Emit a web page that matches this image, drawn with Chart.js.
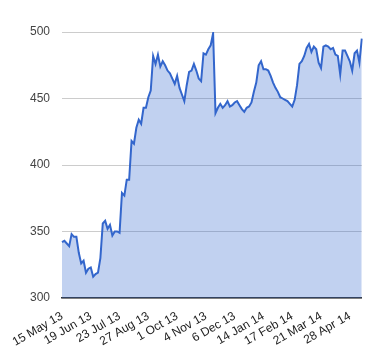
<!DOCTYPE html>
<html>
<head>
<meta charset="utf-8">
<script src="https://cdn.jsdelivr.net/npm/chart.js@4"></script>
<style>
  html, body { margin: 0; padding: 0; background: #fff; }
  #wrap { width: 380px; height: 360px; }
</style>
</head>
<body>
<div id="wrap"><canvas id="c" width="380" height="360"></canvas></div>
<script>
// Tick labels shown on the x axis (one every 12 points)
const tickLabels = ["15 May 13", "19 Jun 13", "23 Jul 13", "27 Aug 13", "1 Oct 13", "4 Nov 13",
                    "6 Dec 13", "14 Jan 14", "17 Feb 14", "21 Mar 14", "28 Apr 14"];
const tickEvery = 12;

// Series values
const values = [
  342, 343, 341, 339, 348, 346, 346, 334, 326, 328,
  319, 322, 323, 316, 318, 319, 330, 356, 358, 352,
  355, 347, 350, 350, 349, 379, 377, 389, 389, 418,
  416, 428, 434, 431, 443, 443, 451, 456, 482, 476,
  483, 474, 478, 475, 471, 469, 465, 461, 467, 458,
  453, 448, 460, 470, 471, 476, 471, 465, 463, 484,
  483, 487, 490, 499, 439, 443, 446, 443, 445, 448,
  444, 445, 447, 448, 445, 442, 440, 443, 444, 447,
  455, 462, 475, 478, 472, 472, 471, 467, 462, 458,
  455, 451, 450, 449, 448, 446, 444, 449, 460, 476,
  478, 482, 488, 491, 485, 489, 487, 477, 473, 489,
  490, 489, 487, 488, 483, 482, 468, 486, 486, 482,
  478, 471, 484, 486, 477, 495
];

// Y axis ticks
const yTicks = [300, 350, 400, 450, 500];

const categories = values.map((_, i) => (i % tickEvery === 0 && tickLabels[i / tickEvery]) ? tickLabels[i / tickEvery] : "");

new Chart(document.getElementById('c'), {
  type: 'line',
  data: {
    labels: categories,
    datasets: [{
      data: values,
      borderColor: '#3366cc',
      borderWidth: 2,
      backgroundColor: 'rgba(51,102,204,0.3)',
      fill: 'start',
      pointRadius: 0,
      tension: 0
    }]
  },
  options: {
    responsive: false,
    animation: false,
    devicePixelRatio: 1,
    layout: { padding: { left: 0, right: 18, top: 32, bottom: 0 } },
    plugins: { legend: { display: false }, tooltip: { enabled: false } },
    scales: {
      x: {
        offset: false,
        grid: { display: false, drawTicks: false },
        border: { display: true, color: '#333333', width: 1.5 },
        ticks: {
          autoSkip: false,
          minRotation: 30,
          maxRotation: 30,
          padding: 11,
          color: '#222222',
          font: { family: 'Liberation Sans, Arial, sans-serif', size: 12 },
          callback: function (v, i) { return categories[i]; }
        },
        afterFit: function (s) { s.height = 62; }
      },
      y: {
        min: yTicks[0],
        max: yTicks[yTicks.length - 1],
        afterBuildTicks: function (s) { s.ticks = yTicks.map(v => ({ value: v })); },
        grid: { color: '#cccccc', drawTicks: false, lineWidth: 1 },
        border: { display: false },
        ticks: {
          padding: 12,
          color: '#444444',
          font: { family: 'Liberation Sans, Arial, sans-serif', size: 12 }
        },
        afterFit: function (s) { s.width = 62; }
      }
    }
  }
});
</script>
</body>
</html>
